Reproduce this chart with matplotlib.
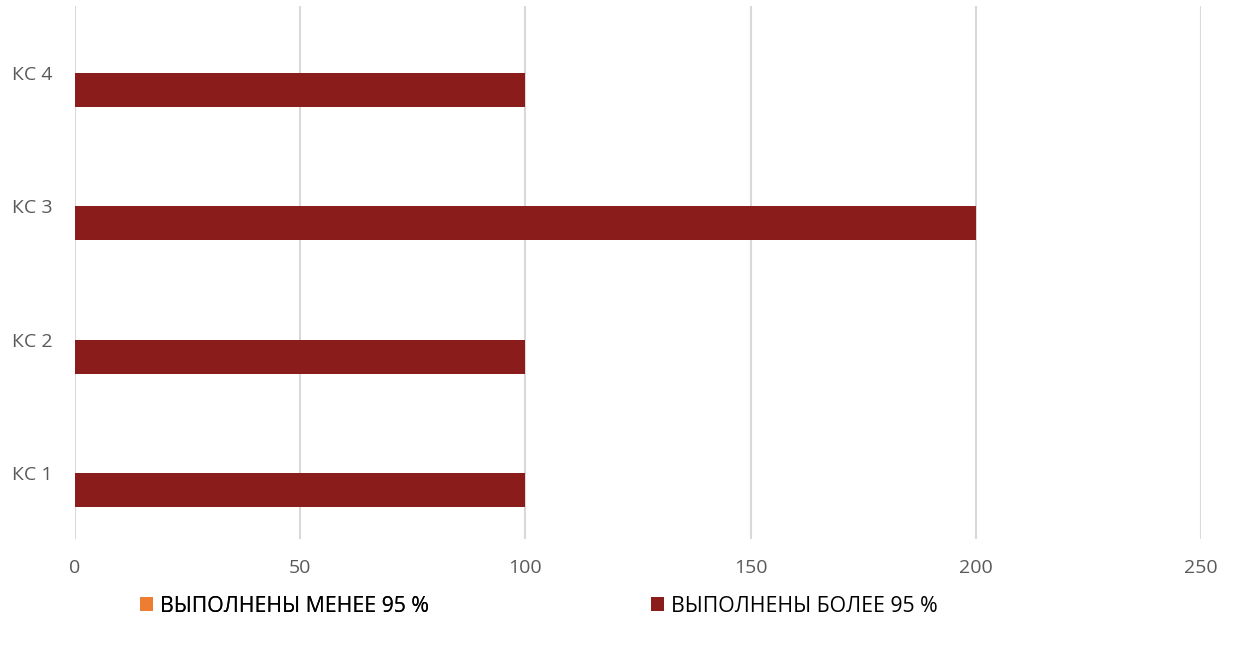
import matplotlib.pyplot as plt
import numpy as np

categories = ['КС 1', 'КС 2', 'КС 3', 'КС 4']
less_95 = [0, 0, 0, 0]
more_95 = [100, 100, 200, 100]
series_names = ['ВЫПОЛНЕНЫ МЕНЕЕ 95 %', 'ВЫПОЛНЕНЫ БОЛЕЕ 95 %']
x_ticks = [0, 50, 100, 150, 200, 250]

plt.rcParams['font.family'] = ['Open Sans', 'DejaVu Sans']

fig = plt.figure(figsize=(12.37, 6.46), dpi=100)
ax = fig.add_axes([0.0606, 0.165, 0.9104, 0.825])

y = np.arange(len(categories))
h = 0.256
b1 = ax.barh(y + h / 2, less_95, height=h, color='#ED7D31')
b2 = ax.barh(y - h / 2, more_95, height=h, color='#8B1C1C')

ax.set_xlim(0, 250)
ax.set_ylim(-0.5, 3.5)
ax.set_xticks(x_ticks)
ax.set_yticks(y)
ax.set_yticklabels(categories)
ax.grid(axis='x', color='#D9D9D9', linewidth=1.5)
ax.set_axisbelow(True)
for s in ax.spines.values():
    s.set_visible(False)
ax.tick_params(length=0, labelsize=14, colors='#595959')
ax.tick_params(axis='x', pad=14)
ax.tick_params(axis='y', pad=16)

leg_kw = dict(frameon=False, fontsize=15.3, handlelength=0.62, handleheight=0.62,
              handletextpad=0.3, borderpad=0, borderaxespad=0, labelcolor='#000000')
leg1 = fig.legend([b1], [series_names[0]], loc='center left',
                  bbox_to_anchor=(140 / 1237, 1 - 606 / 646), **leg_kw)
fig.add_artist(leg1)
fig.legend([b2], [series_names[1]], loc='center left',
           bbox_to_anchor=(651 / 1237, 1 - 606 / 646), **leg_kw)

fig.savefig('out.png', dpi=100)
